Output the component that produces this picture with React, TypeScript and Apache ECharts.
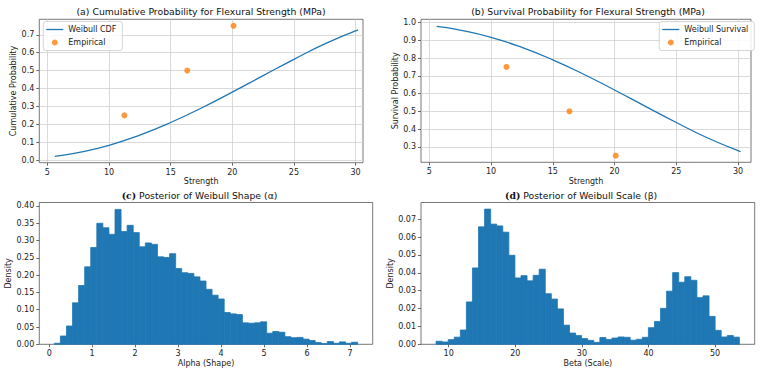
import React, { useEffect, useRef } from "react";
import * as echarts from "echarts";

// Fitted Weibull curves for flexural strength (MPa)
const strengthGrid = [5.6, 7.5, 10, 12.5, 15, 17.5, 20, 22.5, 25, 27.5, 30.2];
const weibullCdf = [0.021, 0.042, 0.083, 0.14, 0.21, 0.291, 0.38, 0.472, 0.563, 0.649, 0.727];
const weibullSurvival = [0.979, 0.958, 0.917, 0.86, 0.79, 0.709, 0.62, 0.528, 0.437, 0.351, 0.273];

// Empirical plotting positions
const empiricalStrength = [11.25, 16.35, 20.1];
const empiricalCdf = [0.25, 0.5, 0.75];
const empiricalSurvival = [0.75, 0.5, 0.25];

// Posterior samples, histogrammed (density per bin)
const alphaRange = [0.12, 7.18];
const alphaDensity = [
  0.003, 0.024, 0.053, 0.12, 0.17, 0.224, 0.28, 0.35, 0.337, 0.318,
  0.39, 0.326, 0.344, 0.323, 0.282, 0.293, 0.289, 0.253, 0.251, 0.262,
  0.219, 0.207, 0.205, 0.195, 0.183, 0.159, 0.142, 0.131, 0.092, 0.088,
  0.086, 0.062, 0.061, 0.062, 0.065, 0.032, 0.037, 0.035, 0.022, 0.019,
  0.02, 0.015, 0.011, 0.005, 0.002, 0.008, 0.003, 0.007, 0.003, 0.006,
];
const betaRange = [8.1, 53.65];
const betaDensity = [
  0.0017, 0.0013, 0.0026, 0.004, 0.008, 0.0237, 0.0427, 0.0657, 0.0756, 0.0672,
  0.0662, 0.0627, 0.0498, 0.0371, 0.0384, 0.0355, 0.0386, 0.042, 0.0283, 0.0253,
  0.0198, 0.0107, 0.0063, 0.0049, 0.0032, 0.0022, 0.0011, 0.0038, 0.0027, 0.0035,
  0.0041, 0.0039, 0.0023, 0.0028, 0.0039, 0.0093, 0.0128, 0.0201, 0.0297, 0.0401,
  0.0347, 0.0378, 0.0358, 0.0261, 0.0271, 0.0156, 0.0078, 0.0041, 0.0049, 0.004,
];

// Tick positions
const strengthTicks = [5, 10, 15, 20, 25, 30];
const cdfTicks = [0, 0.1, 0.2, 0.3, 0.4, 0.5, 0.6, 0.7];
const survivalTicks = [0.3, 0.4, 0.5, 0.6, 0.7, 0.8, 0.9, 1.0];
const alphaTicks = [0, 1, 2, 3, 4, 5, 6, 7];
const alphaDensityTicks = [0, 0.05, 0.1, 0.15, 0.2, 0.25, 0.3, 0.35, 0.4];
const betaTicks = [10, 20, 30, 40, 50];
const betaDensityTicks = [0, 0.01, 0.02, 0.03, 0.04, 0.05, 0.06, 0.07];

const FONT = "DejaVu Sans";
const TEXT = "#222";
const BLUE = "#1f77b4";
const ORANGE = "#ff7f0e";
const LINE_ICON = "path://M0,0H17V1.3H0Z";

function binRows(range: number[], density: number[]) {
  const width = (range[1] - range[0]) / density.length;
  return density.map((d, i) => [range[0] + i * width, range[0] + (i + 1) * width, d]);
}

function axis(
  gridIndex: number,
  min: number,
  max: number,
  ticks: number[],
  digits: number,
  name: string,
  nameGap: number,
  grid: boolean,
  margin: number
) {
  return {
    type: "value",
    gridIndex,
    min,
    max,
    name,
    nameLocation: "middle",
    nameGap,
    nameTextStyle: { fontFamily: FONT, fontSize: 8, color: TEXT },
    axisLine: { show: false, onZero: false },
    axisTick: {
      show: true,
      length: 3,
      lineStyle: { color: "#444", width: 0.8 },
      customValues: ticks,
    },
    axisLabel: {
      customValues: ticks,
      formatter: (v: number) => v.toFixed(digits),
      fontFamily: FONT,
      fontSize: 8,
      color: TEXT,
      margin,
    },
    splitLine: { show: grid, lineStyle: { color: "#d0d0d0", width: 0.8 } },
  };
}

function histogram(xAxisIndex: number, rows: number[][]) {
  return {
    type: "custom",
    xAxisIndex,
    yAxisIndex: xAxisIndex,
    data: rows,
    encode: { x: [0, 1], y: 2 },
    renderItem: (_params: any, api: any) => {
      const top = api.coord([api.value(0), api.value(2)]);
      const base = api.coord([api.value(1), 0]);
      return {
        type: "rect",
        shape: { x: top[0], y: top[1], width: base[0] - top[0], height: base[1] - top[1] },
        style: { fill: BLUE, stroke: BLUE, lineWidth: 0.8 },
      };
    },
  };
}

function legend(left: number, lineName: string) {
  return {
    data: [
      { name: lineName, icon: LINE_ICON },
      { name: "Empirical", icon: "circle" },
    ],
    orient: "vertical",
    left,
    top: 21.5,
    itemWidth: 17,
    itemHeight: 6,
    itemGap: 5,
    padding: [4, 6, 4, 3],
    borderColor: "#cccccc",
    borderWidth: 0.8,
    borderRadius: 2.5,
    backgroundColor: "rgba(255,255,255,0.85)",
    textStyle: { fontFamily: FONT, fontSize: 8, color: TEXT },
  };
}

function title(x: number, y: number, text: string, align: string) {
  return {
    type: "text",
    x,
    y,
    style: {
      text,
      textAlign: align,
      textVerticalAlign: "middle",
      fontFamily: FONT,
      fontSize: 9.3,
      fill: "#111",
      rich: {
        b: { fontFamily: "DejaVu Serif", fontWeight: "bold", fontSize: 9.3, fill: "#111" },
      },
    },
  };
}

export default function App() {
  const ref = useRef<HTMLDivElement>(null);

  useEffect(() => {
    if (!ref.current) return;
    const chart = echarts.init(ref.current, undefined, { renderer: "svg" });

    const gridBox = { show: true, borderColor: "#555", borderWidth: 0.8, backgroundColor: "transparent" };

    chart.setOption({
      animation: false,
      backgroundColor: "#fff",
      grid: [
        { ...gridBox, left: 39.3, top: 19.3, width: 323.7, height: 143.4 },
        { ...gridBox, left: 421, top: 19.3, width: 330, height: 143 },
        { ...gridBox, left: 39.3, top: 202.5, width: 333.4, height: 141.8 },
        { ...gridBox, left: 421, top: 202.5, width: 333.7, height: 141.8 },
      ],
      xAxis: [
        axis(0, 4.35, 30.6, strengthTicks, 0, "Strength", 15, true, 5.5),
        axis(1, 4.33, 31.05, strengthTicks, 0, "Strength", 15, true, 5.5),
        axis(2, -0.23, 7.53, alphaTicks, 0, "Alpha (Shape)", 15.5, false, 5.5),
        axis(3, 5.84, 55.95, betaTicks, 0, "Beta (Scale)", 15.5, false, 5.5),
      ],
      yAxis: [
        axis(0, -0.0144, 0.7864, cdfTicks, 1, "Cumulative Probability", 21, true, 5),
        axis(1, 0.2125, 1.0185, survivalTicks, 1, "Survival Probability", 21.5, true, 5),
        axis(2, 0, 0.41, alphaDensityTicks, 2, "Density", 25, false, 5),
        axis(3, 0, 0.0793, betaDensityTicks, 2, "Density", 25.5, false, 5),
      ],
      legend: [legend(43.3, "Weibull CDF"), legend(659.3, "Weibull Survival")],
      graphic: [
        title(201, 11.7, "(a) Cumulative Probability for Flexural Strength (MPa)", "center"),
        title(588, 11.7, "(b) Survival Probability for Flexural Strength (MPa)", "center"),
        title(121.7, 195, "{b|(c)} Posterior of Weibull Shape (α)", "left"),
        title(505, 195, "{b|(d)} Posterior of Weibull Scale (β)", "left"),
      ],
      series: [
        {
          type: "line",
          name: "Weibull CDF",
          xAxisIndex: 0,
          yAxisIndex: 0,
          data: strengthGrid.map((x, i) => [x, weibullCdf[i]]),
          smooth: true,
          showSymbol: false,
          symbol: "none",
          lineStyle: { color: BLUE, width: 1.3 },
          itemStyle: { color: BLUE },
        },
        {
          type: "scatter",
          name: "Empirical",
          xAxisIndex: 0,
          yAxisIndex: 0,
          data: empiricalStrength.map((x, i) => [x, empiricalCdf[i]]),
          symbolSize: 6,
          itemStyle: { color: ORANGE },
        },
        {
          type: "line",
          name: "Weibull Survival",
          xAxisIndex: 1,
          yAxisIndex: 1,
          data: strengthGrid.map((x, i) => [x, weibullSurvival[i]]),
          smooth: true,
          showSymbol: false,
          symbol: "none",
          lineStyle: { color: BLUE, width: 1.3 },
          itemStyle: { color: BLUE },
        },
        {
          type: "scatter",
          name: "Empirical",
          xAxisIndex: 1,
          yAxisIndex: 1,
          data: empiricalStrength.map((x, i) => [x, empiricalSurvival[i]]),
          symbolSize: 6,
          itemStyle: { color: ORANGE },
        },
        histogram(2, binRows(alphaRange, alphaDensity)),
        histogram(3, binRows(betaRange, betaDensity)),
      ],
    });

    return () => chart.dispose();
  }, []);

  return (
    <div
      ref={ref}
      style={{ position: "fixed", left: 0, top: 0, width: 762, height: 374, background: "#fff" }}
    />
  );
}
